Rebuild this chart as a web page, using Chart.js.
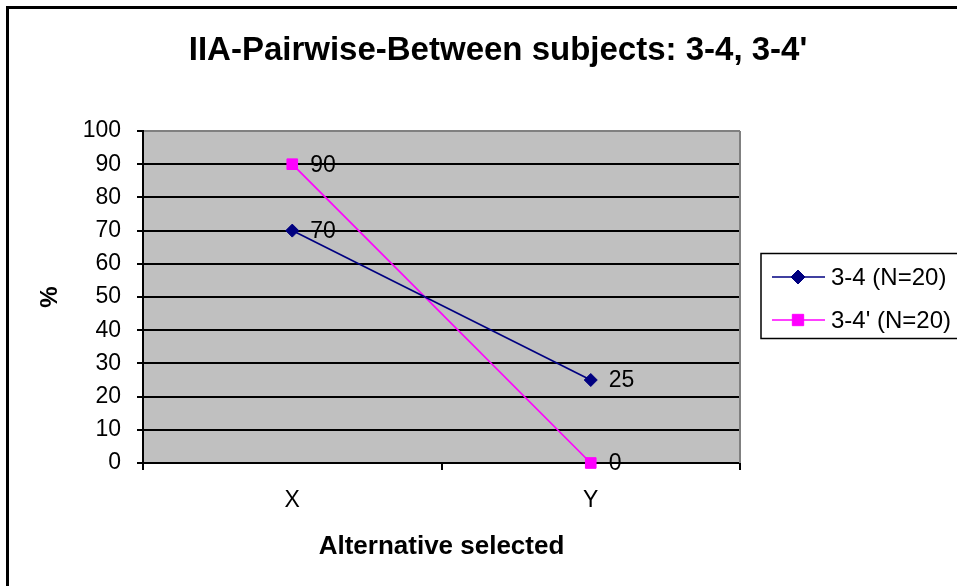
<!DOCTYPE html>
<html>
<head>
<meta charset="utf-8">
<title>IIA-Pairwise-Between subjects</title>
<script src="https://cdn.jsdelivr.net/npm/chart.js@4/dist/chart.umd.min.js"></script>
<style>
    html, body { margin: 0; padding: 0; background: #fff; }
    canvas { display: block; }
</style>
</head>
<body>
<canvas id="chartPairwise" width="957" height="586"></canvas>
<script>
// Categories and series values (% choosing each alternative)
const categories = ['X', 'Y'];
const series34 = [70, 25];
const series34prime = [90, 0];
const seriesNames = ['3-4 (N=20)', "3-4' (N=20)"];
const chartTitle = "IIA-Pairwise-Between subjects: 3-4, 3-4'";

const fontFamily = '"Liberation Sans", Arial, sans-serif';
Chart.defaults.font.family = fontFamily;
Chart.defaults.color = '#000';

// Gray plot area, outer frame, title and boxed legend drawn by hand
const framePlugin = {
    id: 'frame',
    beforeDraw(chart) {
        const { ctx, chartArea: a } = chart;
        ctx.save();
        ctx.fillStyle = '#fff';
        ctx.fillRect(0, 0, chart.width, chart.height);
        ctx.fillStyle = '#C0C0C0';
        ctx.fillRect(a.left, a.top, a.right - a.left, a.bottom - a.top);
        ctx.restore();
    },
    beforeDatasetsDraw(chart) {
        const { ctx, chartArea: a } = chart;
        ctx.save();
        ctx.strokeStyle = '#808080';
        ctx.lineWidth = 2;
        ctx.beginPath();
        ctx.moveTo(a.right, a.top);
        ctx.lineTo(a.right, a.bottom);
        ctx.stroke();
        ctx.restore();
    },
    afterDraw(chart) {
        const ctx = chart.ctx;
        ctx.save();

        // outer chart border (runs off the right and bottom edges)
        ctx.strokeStyle = '#000';
        ctx.lineWidth = 3;
        ctx.beginPath();
        ctx.moveTo(7.5, chart.height + 5);
        ctx.lineTo(7.5, 7.5);
        ctx.lineTo(chart.width + 5, 7.5);
        ctx.stroke();

        // title
        ctx.fillStyle = '#000';
        ctx.font = 'bold 33px ' + fontFamily;
        ctx.textAlign = 'center';
        ctx.textBaseline = 'alphabetic';
        ctx.fillText(chartTitle, 498, 60);

        // legend box
        ctx.lineWidth = 1.5;
        ctx.strokeRect(761, 253.5, 260, 85);
        ctx.font = '24px ' + fontFamily;
        ctx.textAlign = 'left';
        ctx.textBaseline = 'middle';
        chart.data.datasets.forEach((ds, i) => {
            const y = 277 + i * 43;
            ctx.strokeStyle = ds.borderColor;
            ctx.lineWidth = ds.borderWidth;
            ctx.beginPath();
            ctx.moveTo(772, y);
            ctx.lineTo(825, y);
            ctx.stroke();
            ctx.fillStyle = ds.pointBackgroundColor;
            ctx.strokeStyle = ds.pointBorderColor;
            ctx.lineWidth = 1;
            Chart.helpers.drawPoint(ctx, {
                pointStyle: ds.pointStyle,
                radius: ds.pointRadius + 0.5,
                borderWidth: 1,
                rotation: 0
            }, 798, y);
            ctx.fillStyle = '#000';
            ctx.fillText(ds.label, 831, y + 1);
        });
        ctx.restore();
    }
};

// value printed to the right of each point
const valueLabels = {
    id: 'valueLabels',
    afterDatasetsDraw(chart) {
        const ctx = chart.ctx;
        ctx.save();
        ctx.font = '23px ' + fontFamily;
        ctx.fillStyle = '#000';
        ctx.textAlign = 'left';
        ctx.textBaseline = 'middle';
        chart.data.datasets.forEach((ds, i) => {
            chart.getDatasetMeta(i).data.forEach((pt, j) => {
                ctx.fillText(String(ds.data[j]), pt.x + 18, pt.y + 1);
            });
        });
        ctx.restore();
    }
};

const chartPairwise = new Chart(document.getElementById('chartPairwise'), {
    type: 'line',
    data: {
        labels: categories,
        datasets: [{
            label: seriesNames[0],
            data: series34,
            borderColor: '#000080',
            backgroundColor: '#000080',
            borderWidth: 1.7,
            pointStyle: 'rectRot',
            pointRadius: 6.5,
            pointBackgroundColor: '#000080',
            pointBorderColor: '#000080',
            pointBorderWidth: 1,
            tension: 0
        }, {
            label: seriesNames[1],
            data: series34prime,
            borderColor: '#FF00FF',
            backgroundColor: '#FF00FF',
            borderWidth: 1.7,
            pointStyle: 'rect',
            pointRadius: 7.5,
            pointBackgroundColor: '#FF00FF',
            pointBorderColor: '#FF00FF',
            pointBorderWidth: 1,
            tension: 0
        }]
    },
    options: {
        responsive: false,
        animation: false,
        clip: false,
        layout: { padding: { top: 131, right: 217, bottom: 0, left: 0 } },
        plugins: {
            legend: { display: false },
            title: { display: false },
            tooltip: { enabled: false }
        },
        scales: {
            x: {
                offset: true,
                afterFit(scale) { scale.height = 123; },
                grid: {
                    offset: true,
                    drawOnChartArea: false,
                    color: '#000',
                    lineWidth: 2,
                    tickLength: 7
                },
                border: { color: '#000', width: 2 },
                ticks: { font: { size: 23 }, padding: 17, color: '#000' },
                title: {
                    display: true,
                    text: 'Alternative selected',
                    font: { size: 26, weight: 'bold' },
                    padding: { top: 0, bottom: 24 },
                    color: '#000'
                }
            },
            y: {
                min: 0,
                max: 100,
                afterFit(scale) { scale.width = 143; },
                grid: {
                    color: (c) => (c.tick && c.tick.value === 100 ? '#808080' : '#000'),
                    tickColor: '#000',
                    lineWidth: 2,
                    tickLength: 6
                },
                border: { color: '#000', width: 2 },
                ticks: { stepSize: 10, font: { size: 23 }, padding: 16, color: '#000' },
                title: {
                    display: true,
                    text: '%',
                    font: { size: 24, weight: 'bold' },
                    padding: { top: 36, bottom: 0 },
                    color: '#000'
                }
            }
        }
    },
    plugins: [framePlugin, valueLabels]
});
</script>
</body>
</html>
